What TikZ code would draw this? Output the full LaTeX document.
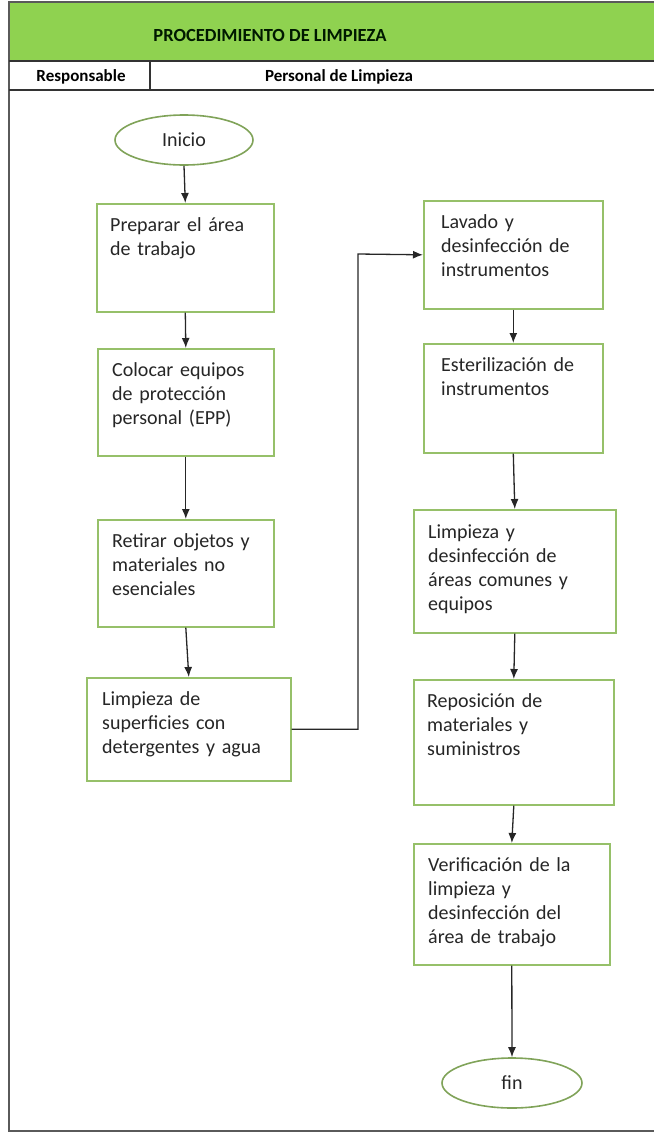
\documentclass[tikz,border=0pt]{standalone}
\usepackage{fontspec}
\setmainfont{Carlito}
\usetikzlibrary{arrows.meta,shapes.geometric}

\definecolor{headgreen}{RGB}{143,210,80}
\definecolor{boxgreen}{RGB}{150,192,105}
\definecolor{framegray}{RGB}{90,90,90}

\tikzset{
  procbox/.style={draw=boxgreen, line width=1.6bp, fill=white, anchor=north west, inner sep=0pt},
  proctext/.style={anchor=base west, inner sep=0pt, text width=175bp, align=left,
    font=\fontsize{20bp}{24bp}\selectfont, text=black!85},
  terminal/.style={ellipse, draw=boxgreen!85!black, line width=1.6bp, minimum width=138bp,
    minimum height=50bp, inner sep=0pt, font=\fontsize{20bp}{24bp}\selectfont, text=black!85},
  flow/.style={line width=1.3bp, black!85, -{Latex[length=10bp,width=8bp]}},
  headtext/.style={anchor=base, inner sep=0pt, font=\bfseries\fontsize{17bp}{20bp}\selectfont},
}

\begin{document}
\begin{tikzpicture}[x=1bp,y=-1bp]
\useasboundingbox (0,0) rectangle (654,1133);
% header
\fill[headgreen] (9,3) rectangle (654,60);
\draw[framegray, line width=2bp] (654,2) -- (9,2) -- (9,1131) -- (654,1131);
\draw[black!80, line width=2.2bp] (9,61) -- (654,61);
\draw[black!80, line width=2bp] (9,90) -- (654,90);
\draw[black!80, line width=2bp] (150,61) -- (150,90);
\node[headtext, font=\bfseries\fontsize{18.5bp}{22bp}\selectfont, text=black!90!green] (title) at (270,41) {PROCEDIMIENTO DE LIMPIEZA};
\node[headtext] (resp) at (81,81) {Responsable};
\node[headtext] (pers) at (339,81) {Personal de Limpieza};

% left column
\node[terminal] (inicio) at (184,140) {Inicio};
\node[procbox, minimum width=177bp, minimum height=108bp] (b1) at (96,203) {};
\node[proctext] (b1t) at ([shift={(14,28)}]b1.north west) {Preparar el área\\de trabajo};
\node[procbox, minimum width=176bp, minimum height=107bp] (b2) at (97,348) {};
\node[proctext] (b2t) at ([shift={(15,28)}]b2.north west) {Colocar equipos\\de protección\\personal (EPP)};
\node[procbox, minimum width=176bp, minimum height=107bp] (b3) at (97,519) {};
\node[proctext] (b3t) at ([shift={(15,28)}]b3.north west) {Retirar objetos y\\materiales no\\esenciales};
\node[procbox, minimum width=204bp, minimum height=103bp] (b4) at (86,677) {};
\node[proctext] (b4t) at ([shift={(16,28)}]b4.north west) {Limpieza de\\superficies con\\detergentes y agua};

% right column
\node[procbox, minimum width=179bp, minimum height=108bp] (b5) at (423,200) {};
\node[proctext] (b5t) at ([shift={(18,28)}]b5.north west) {Lavado y\\desinfección de\\instrumentos};
\node[procbox, minimum width=179bp, minimum height=109bp] (b6) at (423,343) {};
\node[proctext] (b6t) at ([shift={(18,28)}]b6.north west) {Esterilización de\\instrumentos};
\node[procbox, minimum width=202bp, minimum height=123bp] (b7) at (413,509) {};
\node[proctext] (b7t) at ([shift={(15,29)}]b7.north west) {Limpieza y\\desinfección de\\áreas comunes y\\equipos};
\node[procbox, minimum width=200bp, minimum height=125bp] (b8) at (413,679) {};
\node[proctext] (b8t) at ([shift={(14,28)}]b8.north west) {Reposición de\\materiales y\\suministros};
\node[procbox, minimum width=196bp, minimum height=121bp] (b9) at (413,843) {};
\node[proctext] (b9t) at ([shift={(15,28)}]b9.north west) {Verificación de la\\limpieza y\\desinfección del\\área de trabajo};
\node[terminal, minimum width=140bp] (fin) at (512,1083) {fin};

% connectors
\coordinate (bend) at (358,254);
\draw[flow] (inicio.south) -- (b1.north);
\draw[flow] (b1.south) -- (b2.north);
\draw[flow] (b2.south) -- (b3.north);
\draw[flow] (b3.south) -- (b4.north);
\draw[flow] (b4.east) -| (bend) -- (b5.west);
\draw[flow] (b5.south) -- (b6.north);
\draw[flow] (b6.south) -- (b7.north);
\draw[flow] (b7.south) -- (b8.north);
\draw[flow] (b8.south) -- (b9.north);
\draw[flow] (b9.south) -- (fin.north);
\end{tikzpicture}
\end{document}
